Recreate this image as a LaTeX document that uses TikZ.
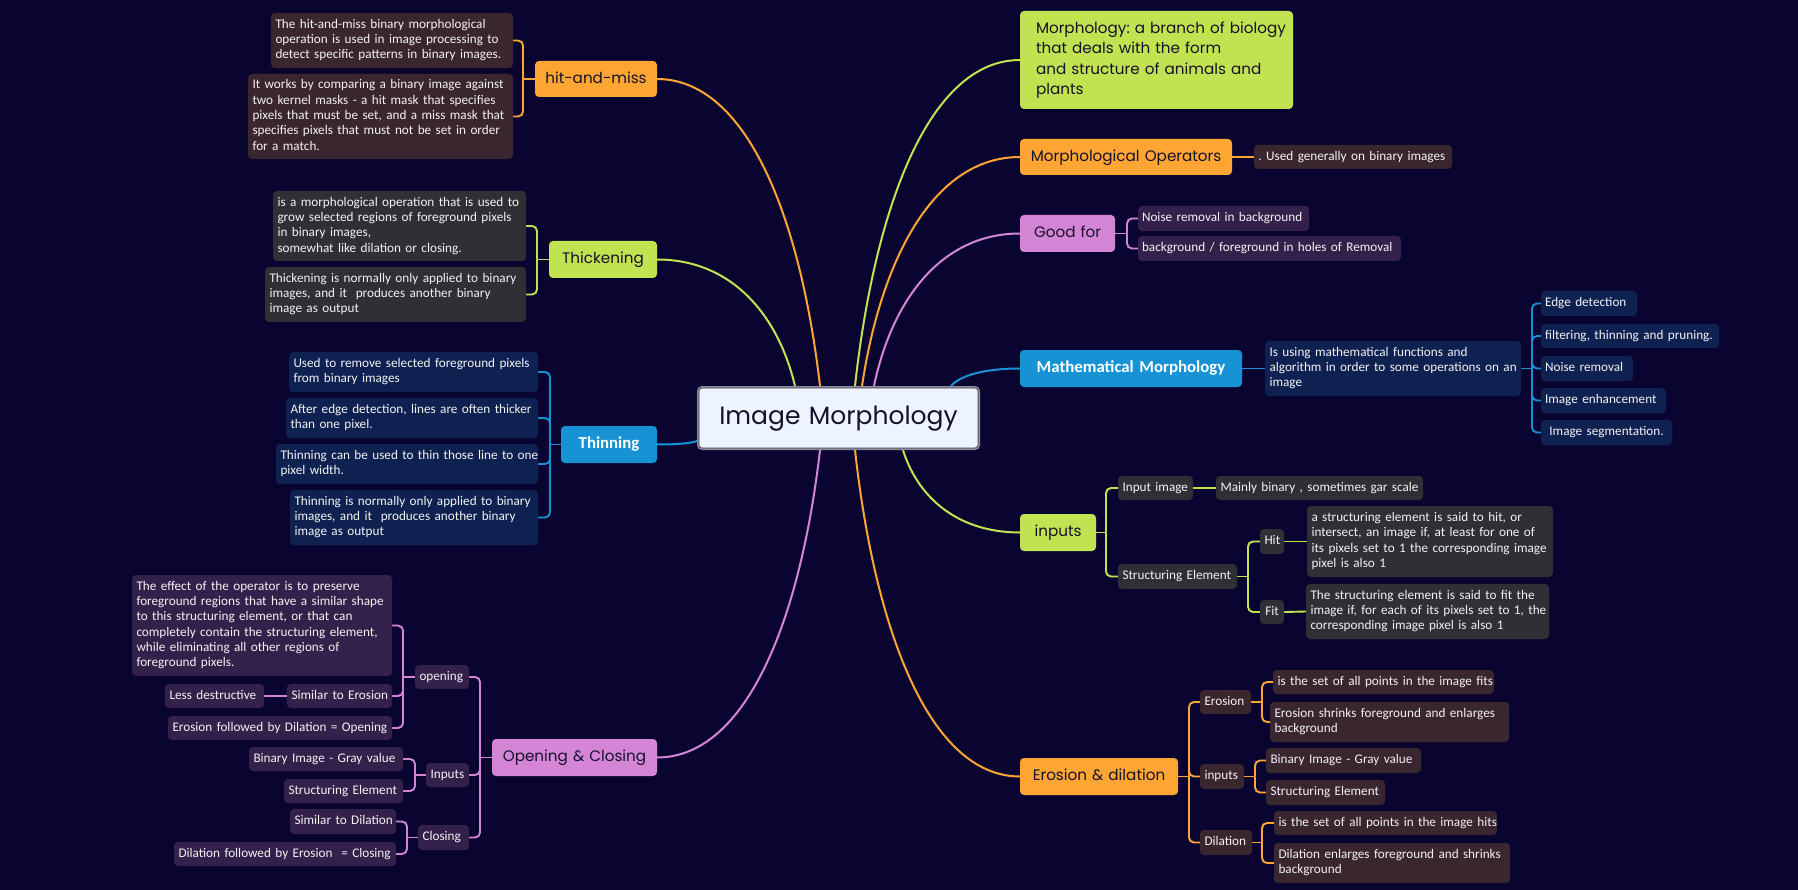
\documentclass[tikz,border=0pt]{standalone}
\usepackage{fontspec}
\setmainfont{Carlito}
\newfontfamily\hfont{Poppins}
\usetikzlibrary{calc}
\definecolor{bgc}{HTML}{0A0530}
\definecolor{cOr}{HTML}{FFA534}
\definecolor{cGr}{HTML}{C2E351}
\definecolor{cPk}{HTML}{D585D6}
\definecolor{cBl}{HTML}{1793D5}
\definecolor{sOrc}{HTML}{3A262F}
\definecolor{sGrc}{HTML}{2E3035}
\definecolor{sBlc}{HTML}{0E2150}
\definecolor{sPkc}{HTML}{33214B}
\definecolor{hdtext}{HTML}{15112B}
\definecolor{smtext}{HTML}{F2F2F2}
\definecolor{cIm}{HTML}{EDF3FF}
\definecolor{cImB}{HTML}{8C8C99}
\pgfdeclarelayer{bgfill}
\pgfdeclarelayer{bgl}
\pgfsetlayers{bgfill,bgl,main}
\tikzset{
  conn/.style={line width=2pt},
  box/.style={rounded corners=4pt, inner ysep=1pt, outer sep=0pt},
  hdr/.style={box, font=\hfont\fontsize{15.2}{20.5}\selectfont, text=hdtext, align=center},
  hOr/.style={hdr, fill=cOr},
  hGr/.style={hdr, fill=cGr},
  hPk/.style={hdr, fill=cPk},
  hBl/.style={box, fill=cBl, text=white, font=\bfseries\fontsize{16.8}{20}\selectfont, align=center},
  sm/.style={box, text=smtext, font=\fontsize{13.2}{15.3}\selectfont, align=left},
  sOr/.style={sm, fill=sOrc},
  sGr/.style={sm, fill=sGrc},
  sBl/.style={sm, fill=sBlc},
  sPk/.style={sm, fill=sPkc},
  centerbox/.style={rounded corners=4pt, fill=cIm, draw=cImB, line width=2pt, text=hdtext,
    font=\hfont\fontsize{25}{30}\selectfont, align=center},
  brk/.style={line width=1.9pt, rounded corners=5pt}
}
\newcommand\tl[1]{\noindent\frenchspacing\begin{tabular}{@{}l@{}}#1\end{tabular}}
\newcommand\mmbox[8][4.5]{%
  \pgfmathsetmacro\bxw{#5-#3}\pgfmathsetmacro\bxh{#6-#4}%
  \pgfmathsetmacro\bxtw{#5-#3-2*#1}%
  \pgfmathsetmacro\bxx{(#3+#5)/2}\pgfmathsetmacro\bxy{(#4+#6)/2}%
  \node[#7, inner xsep=#1pt, text width=\bxtw pt, minimum width=\bxw pt, minimum height=\bxh pt] (#2) at (\bxx,\bxy) {\tl{#8}};}
\newcommand\mcurve[3]{\draw[conn,#3] let \p1=(#1), \p2=(#2) in (\p1) .. controls ({\x1+0.55*(\x2-\x1)},\y1) and ({\x2+0.12*(\x1-\x2)},{\y2+0.55*(\y1-\y2)}) .. (\p2);}
\begin{document}
\begin{tikzpicture}[x=1pt,y=-1pt]
\begin{pgfonlayer}{bgfill}
\fill[bgc] (0,0) rectangle (1798,890);
\end{pgfonlayer}

% ---------- center ----------
\mmbox{im}{698}{387}{979}{449}{centerbox}{Image Morphology}
\draw[hdtext!80, line width=0.7pt, rounded corners=3pt] ([shift={(2,2)}]im.north west) rectangle ([shift={(-2,-2)}]im.south east);

% ---------- left: hit-and-miss ----------
\mmbox{hm}{535}{61}{657}{97}{hOr}{hit-and-miss}
\mmbox{hm1}{271}{13}{513}{68}{sOr}{The hit-and-miss binary morphological\\operation is used in image processing to\\detect specific patterns in binary images.}
\mmbox{hm2}{248}{74}{513}{159}{sOr}{It works by comparing a binary image against\\two kernel masks - a hit mask that specifies\\pixels that must be set, and a miss mask that\\specifies pixels that must not be set in order\\for a match.}

% ---------- left: Thickening ----------
\mmbox{th}{549}{241}{657}{278}{hGr}{Thickening}
\mmbox{th1}{273}{191}{526}{261}{sGr}{is a morphological operation that is used to\\grow selected regions of foreground pixels\\in binary images,\\somewhat like dilation or closing.}
\mmbox{th2}{265}{267}{526}{322}{sGr}{Thickening is normally only applied to binary\\images, and it\ \ produces another binary\\image as output}

% ---------- left: Thinning ----------
\mmbox{tn}{561}{426}{657}{463}{hBl}{Thinning}
\mmbox{tn1}{289}{352}{538}{392}{sBl}{Used to remove selected foreground pixels\\from binary images}
\mmbox{tn2}{286}{398}{538}{438}{sBl}{After edge detection, lines are often thicker\\than one pixel.}
\mmbox{tn3}{276}{444}{538}{484}{sBl}{Thinning can be used to thin those line to one\\pixel width.}
\mmbox{tn4}{290}{490}{538}{545}{sBl}{Thinning is normally only applied to binary\\images, and it\ \ produces another binary\\image as output}

% ---------- left: Opening & Closing ----------
\mmbox{oc}{492}{739}{657}{776}{hPk}{Opening \& Closing}
\mmbox{op}{415}{665}{469}{689}{sPk}{opening}
\mmbox{op1}{132}{575}{392}{676}{sPk}{The effect of the operator is to preserve\\foreground regions that have a similar shape\\to this structuring element, or that can\\completely contain the structuring element,\\while eliminating all other regions of\\foreground pixels.}
\mmbox{op2}{287}{684}{392}{708}{sPk}{Similar to Erosion}
\mmbox{op2a}{165}{684}{264}{708}{sPk}{Less destructive}
\mmbox{op3}{168}{716}{392}{740}{sPk}{Erosion followed by Dilation = Opening}
\mmbox{inp}{426}{763}{469}{787}{sPk}{Inputs}
\mmbox{inp1}{249}{747}{403}{771}{sPk}{Binary Image - Gray value}
\mmbox{inp2}{284}{779}{403}{803}{sPk}{Structuring Element}
\mmbox{cl}{418}{825}{469}{850}{sPk}{Closing}
\mmbox{cl1}{290}{809}{396}{834}{sPk}{Similar to Dilation}
\mmbox{cl2}{174}{842}{396}{866}{sPk}{Dilation followed by Erosion\ \ = Closing}

% ---------- right: definition ----------
\mmbox[16]{md}{1020}{11}{1293}{109}{hGr, align=left}{Morphology: a branch of biology\\that deals with the form\\and structure of animals and\\plants}
\mmbox{mo}{1020}{139}{1232}{175}{hOr}{Morphological Operators}
\mmbox{mo1}{1254}{145}{1452}{169}{sOr}{. Used generally on binary images}
\mmbox{gf}{1020}{215}{1115}{252}{hPk}{Good for}
\mmbox[4]{gf1}{1138}{206}{1309}{231}{sPk}{Noise removal in background}
\mmbox[4]{gf2}{1138}{236}{1401}{261}{sPk}{background / foreground in holes of Removal}

% ---------- right: Mathematical Morphology ----------
\mmbox{mm}{1020}{350}{1242}{387}{hBl}{Mathematical Morphology}
\mmbox{mm1}{1265}{341}{1521}{396}{sBl}{Is using mathematical functions and\\algorithm in order to some operations on an\\image}
\mmbox[4]{e1}{1541}{291}{1637}{316}{sBl}{Edge detection}
\mmbox[4]{e2}{1541}{324}{1719}{348}{sBl}{filtering, thinning and pruning.}
\mmbox[4]{e3}{1541}{356}{1633}{381}{sBl}{Noise removal}
\mmbox[4]{e4}{1541}{388}{1666}{413}{sBl}{Image enhancement}
\mmbox[4]{e5}{1541}{420}{1672}{445}{sBl}{\ Image segmentation.}

% ---------- right: inputs ----------
\mmbox{ip}{1020}{514}{1096}{551}{hGr}{inputs}
\mmbox{ip1}{1118}{476}{1193}{500}{sGr}{Input image}
\mmbox{ip1a}{1216}{476}{1423}{500}{sGr}{Mainly binary , sometimes gar scale}
\mmbox{ip2}{1118}{564}{1237}{589}{sGr}{Structuring Element}
\mmbox{hit}{1260}{529}{1284}{554}{sGr, align=center}{Hit}
\mmbox{hit1}{1307}{506}{1553}{577}{sGr}{a structuring element is said to hit, or\\intersect, an image if, at least for one of\\its pixels set to 1 the corresponding image\\pixel is also 1}
\mmbox{fit}{1260}{600}{1284}{624}{sGr, align=center}{Fit}
\mmbox{fit1}{1306}{584}{1549}{639}{sGr}{The structuring element is said to fit the\\image if, for each of its pixels set to 1, the\\corresponding image pixel is also 1}

% ---------- right: Erosion & dilation ----------
\mmbox{ed}{1020}{758}{1178}{795}{hOr}{Erosion \& dilation}
\mmbox{er}{1200}{690}{1251}{714}{sOr}{Erosion}
\mmbox{er1}{1273}{670}{1494}{694}{sOr}{is the set of all points in the image fits}
\mmbox{er2}{1270}{702}{1509}{742}{sOr}{Erosion shrinks foreground and enlarges\\background}
\mmbox{ei}{1200}{764}{1244}{789}{sOr}{inputs}
\mmbox{ei1}{1266}{748}{1421}{773}{sOr}{Binary Image - Gray value}
\mmbox{ei2}{1266}{780}{1385}{805}{sOr}{Structuring Element}
\mmbox{dl}{1200}{830}{1252}{855}{sOr}{Dilation}
\mmbox{dl1}{1274}{811}{1497}{835}{sOr}{is the set of all points in the image hits}
\mmbox{dl2}{1274}{843}{1510}{883}{sOr}{Dilation enlarges foreground and shrinks\\background}

% ---------- connectors ----------
\begin{pgfonlayer}{bgl}
% main curves
\mcurve{hm.east}{[xshift=123pt]im.north west}{cOr}
\mcurve{th.east}{[xshift=98pt]im.north west}{cGr}
\mcurve{tn.east}{[yshift=-55pt]im.north west}{cBl}
\mcurve{oc.east}{[xshift=123pt]im.south west}{cPk}
\mcurve{md.west}{[xshift=158pt]im.north west}{cGr}
\mcurve{mo.west}{[xshift=165pt]im.north west}{cOr}
\mcurve{gf.west}{[xshift=177pt]im.north west}{cPk}
\mcurve{mm.west}{[xshift=254pt]im.north west}{cBl}
\mcurve{ip.west}{[xshift=206pt]im.south west}{cGr}
\mcurve{ed.west}{[xshift=158pt]im.south west}{cOr}

% hit-and-miss
\draw[brk,cOr] (hm.west) -- ++(-12,0) coordinate (hmb);
\foreach \c in {hm1,hm2} \draw[brk,cOr] (hmb) |- (\c.east);
% Thickening
\draw[brk,cGr] (th.west) -- ++(-12,0) coordinate (thb);
\foreach \c in {th1,th2} \draw[brk,cGr] (thb) |- (\c.east);
% Thinning
\draw[brk,cBl] (tn.west) -- ++(-11,0) coordinate (tnb);
\foreach \c in {tn1,tn2,tn3,tn4} \draw[brk,cBl] (tnb) |- (\c.east);
% Opening & Closing
\draw[brk,cPk] (oc.west) -- ++(-12,0) coordinate (ocb);
\foreach \c in {op,inp,cl} \draw[brk,cPk] (ocb) |- (\c.east);
\draw[brk,cPk] (op.west) -- ++(-12,0) coordinate (opb);
\foreach \c in {op1,op2,op3} \draw[brk,cPk] (opb) |- (\c.east);
\draw[brk,cPk] (op2.west) -- (op2a.east);
\draw[brk,cPk] (inp.west) -- ++(-11,0) coordinate (inpb);
\foreach \c in {inp1,inp2} \draw[brk,cPk] (inpb) |- (\c.east);
\draw[brk,cPk] (cl.west) -- ++(-11,0) coordinate (clb);
\foreach \c in {cl1,cl2} \draw[brk,cPk] (clb) |- (\c.east);

% right side
\draw[brk,cOr] (mo.east) -- (mo1.west);
\draw[brk,cPk] (gf.east) -- ++(12,0) coordinate (gfb);
\foreach \c in {gf1,gf2} \draw[brk,cPk] (gfb) |- (\c.west);
\draw[brk,cBl] (mm.east) -- (mm1.west);
\draw[brk,cBl] (mm1.east) -- ++(11,0) coordinate (mmb);
\foreach \c in {e1,e2,e3,e4,e5} \draw[brk,cBl] (mmb) |- (\c.west);
\draw[brk,cGr] (ip.east) -- ++(10,0) coordinate (ipb);
\foreach \c in {ip1,ip2} \draw[brk,cGr] (ipb) |- (\c.west);
\draw[brk,cGr] (ip1.east) -- (ip1a.west);
\draw[brk,cGr] (ip2.east) -- ++(11,0) coordinate (ip2b);
\foreach \c in {hit,fit} \draw[brk,cGr] (ip2b) |- (\c.west);
\draw[brk,cGr] (hit.east) -- (hit1.west);
\draw[brk,cGr] (fit.east) -- (fit1.west);
\draw[brk,cOr] (ed.east) -- ++(11,0) coordinate (edb);
\foreach \c in {er,ei,dl} \draw[brk,cOr] (edb) |- (\c.west);
\draw[brk,cOr] (er.east) -- ++(11,0) coordinate (erb);
\foreach \c in {er1,er2} \draw[brk,cOr] (erb) |- (\c.west);
\draw[brk,cOr] (ei.east) -- ++(11,0) coordinate (eib);
\foreach \c in {ei1,ei2} \draw[brk,cOr] (eib) |- (\c.west);
\draw[brk,cOr] (dl.east) -- ++(10,0) coordinate (dlb);
\foreach \c in {dl1,dl2} \draw[brk,cOr] (dlb) |- (\c.west);
\end{pgfonlayer}
\end{tikzpicture}
\end{document}
